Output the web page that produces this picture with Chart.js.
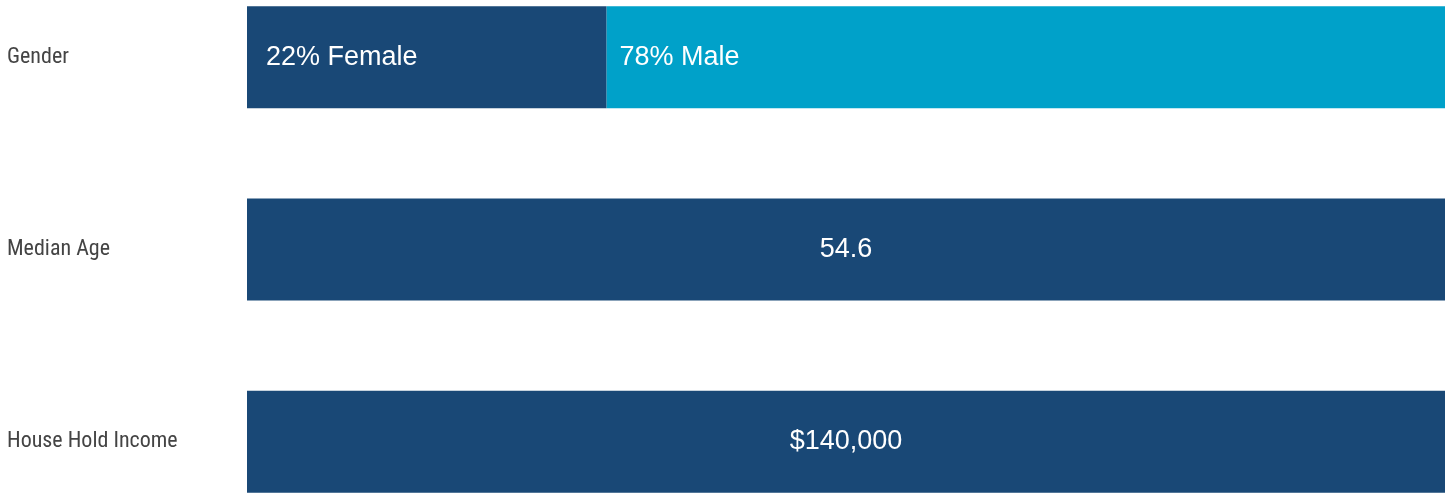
<!DOCTYPE html>
<html>
<head>
<meta charset="utf-8">
<script src="https://cdn.jsdelivr.net/npm/chart.js@4/dist/chart.umd.min.js"></script>
<style>
  html, body { margin: 0; padding: 0; background: #ffffff; overflow: hidden; }
  #frame { position: relative; width: 1453px; height: 493px; overflow: hidden; }
  #wrap { position: absolute; left: 0; top: -39px; width: 1453px; height: 577px; }
</style>
</head>
<body>
<div id="frame"><div id="wrap"><canvas id="c"></canvas></div></div>
<script>
// Row categories
const categories = ["Gender", "Median Age", "House Hold Income"];
// Share of each bar's width taken by each segment
const darkShare  = [30, 100, 100];
const lightShare = [70, 0, 0];
// Text printed inside the segments
const darkLabels  = ["22% Female", "54.6", "$140,000"];
const lightLabels = ["78% Male", "", ""];

const DARK = "#194876";
const LIGHT = "#00a1c9";

const insideLabels = {
  id: "insideLabels",
  afterDatasetsDraw(chart) {
    const ctx = chart.ctx;
    ctx.save();
    ctx.fillStyle = "#ffffff";
    ctx.font = "27px 'Liberation Sans', Arial, sans-serif";
    ctx.textBaseline = "middle";
    const labelSets = [darkLabels, lightLabels];
    chart.data.datasets.forEach((ds, di) => {
      const meta = chart.getDatasetMeta(di);
      meta.data.forEach((bar, i) => {
        const txt = labelSets[di][i];
        if (!txt) return;
        const split = darkShare[i] > 0 && lightShare[i] > 0;
        const left = Math.min(bar.base, bar.x);
        const right = Math.max(bar.base, bar.x);
        if (split) {
          ctx.textAlign = "left";
          ctx.fillText(txt, left + (di === 0 ? 19 : 13), bar.y);
        } else {
          ctx.textAlign = "center";
          ctx.fillText(txt, (left + right) / 2, bar.y);
        }
      });
    });
    ctx.restore();
  }
};

new Chart(document.getElementById("c"), {
  type: "bar",
  data: {
    labels: categories,
    datasets: [
      { label: "dark", data: darkShare, backgroundColor: DARK, borderWidth: 0,
        barPercentage: 0.53, categoryPercentage: 1.0 },
      { label: "light", data: lightShare, backgroundColor: LIGHT, borderWidth: 0,
        barPercentage: 0.53, categoryPercentage: 1.0 }
    ]
  },
  options: {
    indexAxis: "y",
    responsive: true,
    maintainAspectRatio: false,
    animation: false,
    layout: { padding: { left: 7, right: 8, top: 0, bottom: 0 } },
    plugins: { legend: { display: false }, tooltip: { enabled: false } },
    scales: {
      x: {
        stacked: true, min: 0, max: 100, display: false
      },
      y: {
        stacked: true,
        offset: true,
        grid: { display: false },
        border: { display: false },
        afterFit(scale) {
          scale.width = 240;
          scale.paddingTop = 0;
          scale.paddingBottom = 0;
        },
        ticks: {
          crossAlign: "far",
          color: "#444444",
          padding: 0,
          font: { family: "'Roboto Condensed', 'Liberation Sans Narrow', 'DejaVu Sans Condensed', Roboto, sans-serif", size: 22 }
        }
      }
    }
  },
  plugins: [insideLabels]
});
</script>
</body>
</html>
